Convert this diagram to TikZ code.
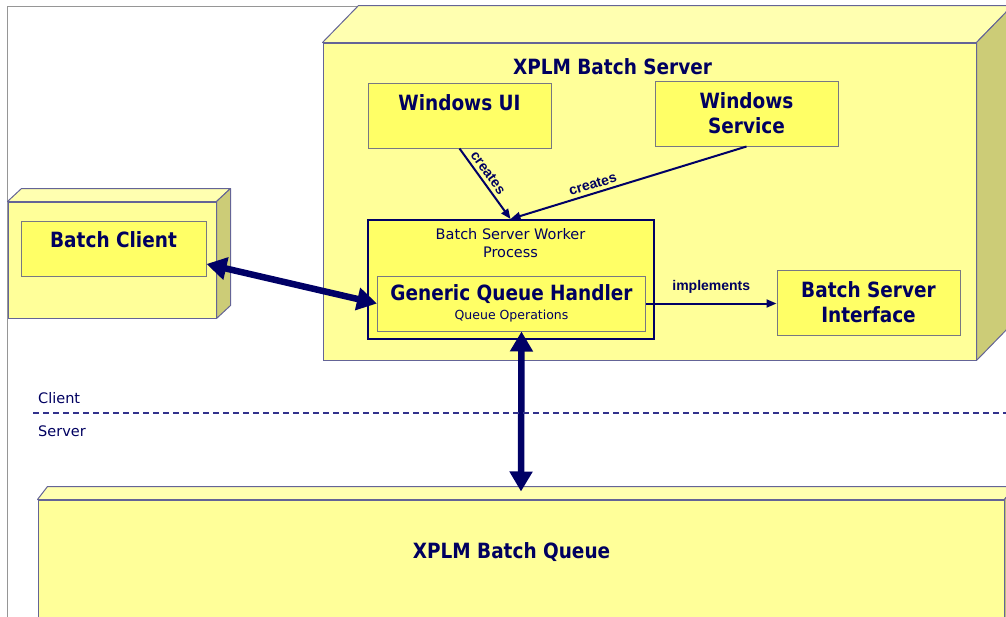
\documentclass[tikz,border=0pt]{standalone}
\usepackage{fontspec}
\usepackage{tikz}
\usetikzlibrary{arrows.meta, positioning, calc}
\newfontfamily\boxfamily{DejaVu Sans}[FakeStretch=0.88]
\newfontfamily\plainfamily{DejaVu Sans}
\newfontfamily\linkfamily{Liberation Sans}
\newcommand\titlefont{\boxfamily\bfseries\fontsize{21}{25}\selectfont}
\newcommand\notefont{\plainfamily\mdseries\fontsize{14.5}{18.5}\selectfont}
\newcommand\opsfont{\plainfamily\mdseries\fontsize{12.5}{15}\selectfont}
\newcommand\linkfont{\linkfamily\bfseries\fontsize{14}{16}\selectfont}
\definecolor{frontyellow}{RGB}{255,255,153}
\definecolor{topyellow}{RGB}{255,255,176}
\definecolor{sideolive}{RGB}{204,204,119}
\definecolor{boxyellow}{RGB}{255,255,102}
\definecolor{edgeblue}{RGB}{100,100,150}
\definecolor{edgegrey}{RGB}{120,120,130}
\definecolor{navytext}{RGB}{0,0,96}
\definecolor{navyarrow}{RGB}{0,0,102}
\definecolor{framegrey}{RGB}{150,150,150}
\definecolor{dividerblue}{RGB}{50,50,140}
\tikzset{
  basebox/.style={rectangle, inner sep=0pt, align=center, text=navytext},
  frontface/.style={basebox, draw=edgeblue, fill=frontyellow, line width=1pt},
  topface/.style={draw=edgeblue, fill=topyellow, line width=1pt, line join=round},
  sideface/.style={draw=edgeblue, fill=sideolive, line width=1pt, line join=round},
  partbox/.style={basebox, draw=edgegrey, fill=boxyellow, line width=1pt, font=\titlefont, minimum width=183pt, minimum height=65pt},
  workerbox/.style={basebox, draw=navyarrow, fill=boxyellow, line width=2pt},
  handlerbox/.style={basebox, draw=edgegrey, fill=boxyellow, line width=1pt},
  toplabel/.style={anchor=north, inner sep=0pt, text=navytext, font=\titlefont, align=center},
  bigarrow/.style={{Triangle[length=20pt,width=22pt]}-{Triangle[length=20pt,width=22pt]}, line width=6.5pt, color=navyarrow},
  arrow/.style={-{Triangle[length=10pt,width=8pt]}, line width=2pt, color=navyarrow},
  linklabel/.style={font=\linkfont, text=navytext},
  sidelabel/.style={font=\notefont, text=navytext, anchor=base west, inner sep=0pt},
  divider/.style={dash pattern=on 6pt off 4pt, line width=1.5pt, color=dividerblue}
}

\begin{document}
\begin{tikzpicture}[x=1pt, y=-1pt]
  \useasboundingbox (0,0) rectangle (1006,616);
  \clip (0,0) rectangle (1006,616);
  \draw[framegrey, line width=1pt] (7,6) rectangle (1100,700);

  \node[frontface, minimum width=653pt, minimum height=317pt, label={[toplabel, yshift=-16pt, xshift=-37pt]north:XPLM Batch Server}] (server) at (649.5,201.5) {};
  \draw[topface] (server.north west) -- ++(36,-37) -- ($(server.north east)+(36,-37)$) -- (server.north east) -- cycle;
  \draw[sideface] (server.north east) -- ++(36,-37) -- ($(server.south east)+(36,-37)$) -- (server.south east) -- cycle;

  \node[frontface, minimum width=208pt, minimum height=116pt] (clientcube) at (112,260) {};
  \draw[topface] (clientcube.north west) -- ++(14,-13) -- ($(clientcube.north east)+(14,-13)$) -- (clientcube.north east) -- cycle;
  \draw[sideface] (clientcube.north east) -- ++(14,-13) -- ($(clientcube.south east)+(14,-13)$) -- (clientcube.south east) -- cycle;

  \node[frontface, minimum width=966pt, minimum height=200pt, label={[toplabel, yshift=-43pt, xshift=-9.5pt]north:XPLM Batch Queue}] (queue) at (521,600) {};
  \draw[topface] (queue.north west) -- ++(10,-13) -- ($(queue.north east)+(10,-13)$) -- (queue.north east) -- cycle;
  \draw[sideface] (queue.north east) -- ++(10,-13) -- ($(queue.south east)+(10,-13)$) -- (queue.south east) -- cycle;

  \node[partbox, minimum width=185pt, minimum height=55pt, label={[toplabel, yshift=-11pt]north:Batch Client}] (client) at (113.5,248.5) {};
  \node[partbox, label={[toplabel, yshift=-12pt]north:Windows UI}] (winui) at (459.5,115.5) {};
  \node[partbox] (winsvc) at (746.5,113.5) {Windows\\Service};
  \node[workerbox, minimum width=286pt, minimum height=119pt, label={[toplabel, font=\notefont, yshift=-9pt]north:Batch Server Worker\\Process}] (worker) at (510.5,279.5) {};
  \node[handlerbox, minimum width=268pt, minimum height=55pt, font=\titlefont] (handler) at (511.5,303.5) {Generic Queue Handler\\[-6pt]{\opsfont Queue Operations}};
  \node[partbox] (bsiface) at (868.5,302.5) {Batch Server\\Interface};

  \draw[arrow] (winui.south) -- node[linklabel, sloped, above, pos=0.42] {creates} (worker.north);
  \draw[arrow] (winsvc.south) -- node[linklabel, sloped, above, pos=0.64] {creates} (worker.north);
  \draw[arrow] (handler.east) -- node[linklabel, above=6pt] {implements} (handler.east -| bsiface.west);
  \draw[bigarrow] ([yshift=-15.5pt]client.east) -- (handler.west);
  \draw[bigarrow] ([xshift=10pt]handler.south) -- ([yshift=8pt]queue.north);

  \draw[divider] (33,413) -- (1006,413);
  \node[sidelabel] (clientside) at (38,403) {Client};
  \node[sidelabel] (serverside) at (38,436) {Server};
\end{tikzpicture}
\end{document}
